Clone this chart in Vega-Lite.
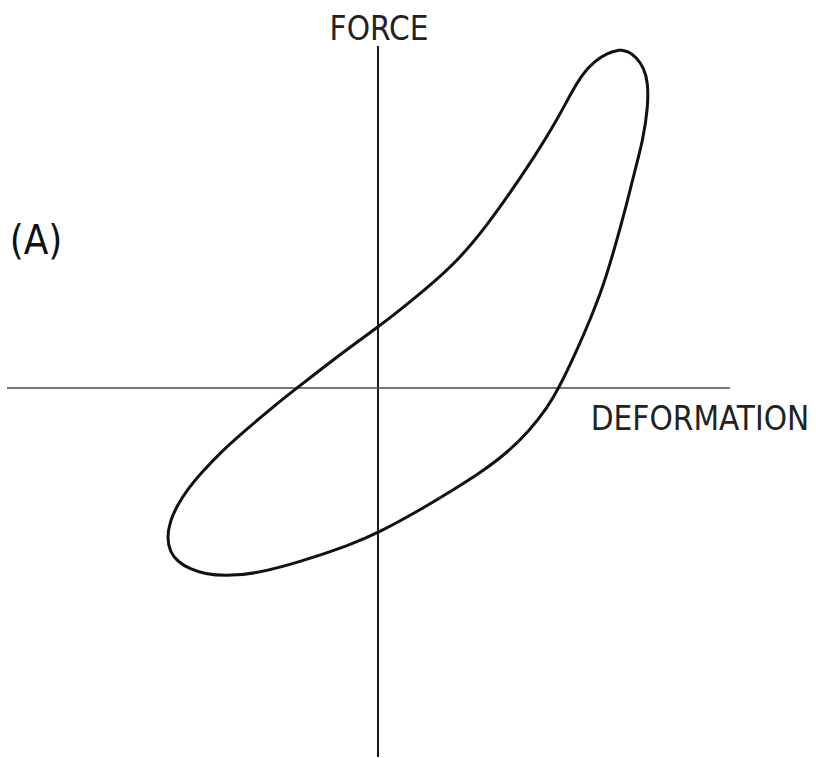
{
  "$schema": "https://vega.github.io/schema/vega-lite/v6.json",
  "width": 816,
  "height": 758,
  "autosize": {"type": "fit", "contains": "padding"},
  "padding": 0,
  "background": "white",
  "config": {"view": {"stroke": null}},
  "datasets": {
    "one": [{}],
    "loop": [
      {"i": 0, "deformation": 24.2, "force": 33.8},
      {"i": 1, "deformation": 22.9, "force": 33.5},
      {"i": 2, "deformation": 21.7, "force": 32.7},
      {"i": 3, "deformation": 20.5, "force": 31.5},
      {"i": 4, "deformation": 19.2, "force": 29.3},
      {"i": 5, "deformation": 17.9, "force": 26.8},
      {"i": 6, "deformation": 15.7, "force": 23.2},
      {"i": 7, "deformation": 13.2, "force": 19.5},
      {"i": 8, "deformation": 10.7, "force": 16.0},
      {"i": 9, "deformation": 8.2, "force": 13.0},
      {"i": 10, "deformation": 5.5, "force": 10.5},
      {"i": 11, "deformation": 2.2, "force": 7.8},
      {"i": 12, "deformation": 0.0, "force": 6.1},
      {"i": 13, "deformation": -4.0, "force": 3.2},
      {"i": 14, "deformation": -8.1, "force": 0.0},
      {"i": 15, "deformation": -10.4, "force": -1.8},
      {"i": 16, "deformation": -13.1, "force": -4.1},
      {"i": 17, "deformation": -15.5, "force": -6.2},
      {"i": 18, "deformation": -17.6, "force": -8.4},
      {"i": 19, "deformation": -19.1, "force": -10.2},
      {"i": 20, "deformation": -20.1, "force": -11.8},
      {"i": 21, "deformation": -20.8, "force": -13.3},
      {"i": 22, "deformation": -21.1, "force": -15.0},
      {"i": 23, "deformation": -20.8, "force": -16.4},
      {"i": 24, "deformation": -20.0, "force": -17.4},
      {"i": 25, "deformation": -18.8, "force": -18.1},
      {"i": 26, "deformation": -17.3, "force": -18.6},
      {"i": 27, "deformation": -15.3, "force": -18.8},
      {"i": 28, "deformation": -12.3, "force": -18.6},
      {"i": 29, "deformation": -7.8, "force": -17.4},
      {"i": 30, "deformation": -2.8, "force": -15.7},
      {"i": 31, "deformation": 0.0, "force": -14.5},
      {"i": 32, "deformation": 4.2, "force": -12.2},
      {"i": 33, "deformation": 7.5, "force": -10.2},
      {"i": 34, "deformation": 10.2, "force": -8.5},
      {"i": 35, "deformation": 12.9, "force": -6.5},
      {"i": 36, "deformation": 15.2, "force": -4.2},
      {"i": 37, "deformation": 16.9, "force": -2.0},
      {"i": 38, "deformation": 18.1, "force": 0.0},
      {"i": 39, "deformation": 19.9, "force": 3.8},
      {"i": 40, "deformation": 21.2, "force": 6.8},
      {"i": 41, "deformation": 22.5, "force": 10.1},
      {"i": 42, "deformation": 23.7, "force": 14.1},
      {"i": 43, "deformation": 24.9, "force": 18.5},
      {"i": 44, "deformation": 25.7, "force": 21.8},
      {"i": 45, "deformation": 26.5, "force": 24.8},
      {"i": 46, "deformation": 27.0, "force": 28.1},
      {"i": 47, "deformation": 27.0, "force": 30.5},
      {"i": 48, "deformation": 26.6, "force": 32.0},
      {"i": 49, "deformation": 25.8, "force": 33.1},
      {"i": 50, "deformation": 25.0, "force": 33.7},
      {"i": 51, "deformation": 24.2, "force": 33.8}
    ]
  },
  "layer": [
    {
      "data": {"name": "one"},
      "mark": {"type": "rule", "color": "#1a1a1a", "strokeWidth": 2},
      "encoding": {
        "x": {"datum": 0, "type": "quantitative", "scale": {"domain": [-37.8, 43.8], "nice": false, "zero": false}, "axis": null},
        "y": {"datum": 34.2, "type": "quantitative", "scale": {"domain": [-37.0, 38.8], "nice": false, "zero": false}, "axis": null},
        "y2": {"datum": -36.9}
      }
    },
    {
      "data": {"name": "one"},
      "mark": {"type": "rule", "color": "#4a4a4a", "strokeWidth": 1.6},
      "encoding": {
        "x": {"datum": -37.1, "type": "quantitative"},
        "x2": {"datum": 35.2},
        "y": {"datum": 0, "type": "quantitative"}
      }
    },
    {
      "data": {"name": "loop"},
      "mark": {"type": "line", "interpolate": "basis", "color": "#111111", "strokeWidth": 3},
      "encoding": {
        "x": {"field": "deformation", "type": "quantitative"},
        "y": {"field": "force", "type": "quantitative"},
        "order": {"field": "i", "type": "quantitative"}
      }
    },
    {
      "data": {"name": "one"},
      "mark": {"type": "text", "text": "FORCE", "font": "Liberation Sans Narrow, DejaVu Sans Condensed, sans-serif", "fontSize": 33, "align": "center", "baseline": "alphabetic", "color": "#222222"},
      "encoding": {
        "x": {"datum": 0.1, "type": "quantitative"},
        "y": {"datum": 34.8, "type": "quantitative"}
      }
    },
    {
      "data": {"name": "one"},
      "mark": {"type": "text", "text": "DEFORMATION", "font": "Liberation Sans Narrow, DejaVu Sans Condensed, sans-serif", "fontSize": 33, "align": "center", "baseline": "alphabetic", "color": "#222222"},
      "encoding": {
        "x": {"datum": 32.2, "type": "quantitative"},
        "y": {"datum": -4.2, "type": "quantitative"}
      }
    },
    {
      "data": {"name": "one"},
      "mark": {"type": "text", "text": "(A)", "font": "Liberation Sans Narrow, DejaVu Sans Condensed, sans-serif", "fontSize": 40, "align": "center", "baseline": "alphabetic", "color": "#111111"},
      "encoding": {
        "x": {"datum": -34.2, "type": "quantitative"},
        "y": {"datum": 13.4, "type": "quantitative"}
      }
    }
  ]
}
